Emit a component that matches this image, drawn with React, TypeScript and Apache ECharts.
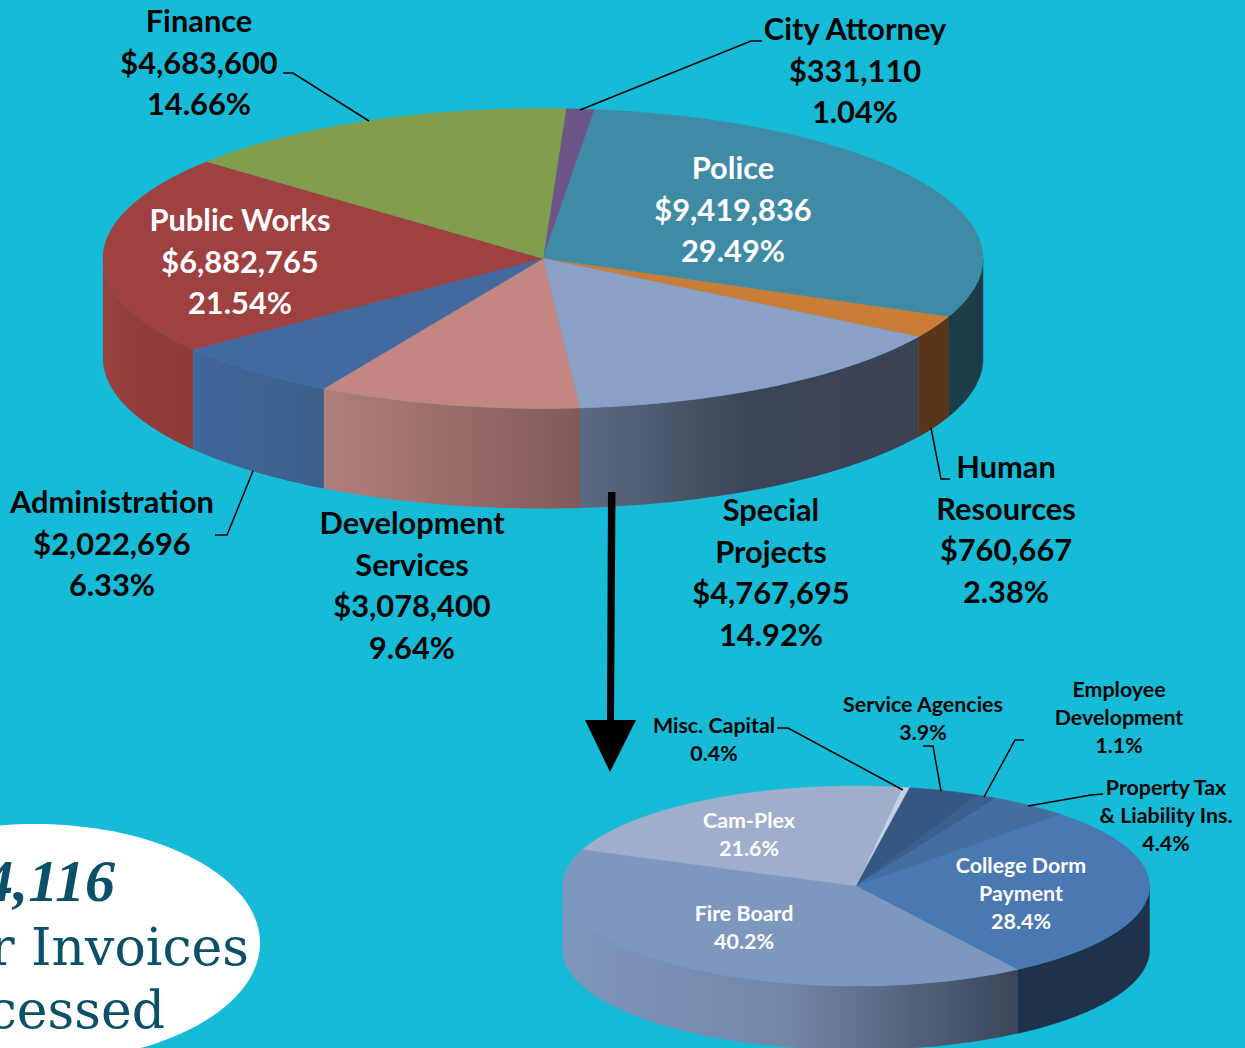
import React, { useEffect, useRef } from "react";
import * as echarts from "echarts";

// ---- data ----
const budgetNames = ["City Attorney", "Police", "Human Resources", "Special Projects", "Development Services", "Administration", "Public Works", "Finance"];
const budgetAmounts = [331110, 9419836, 760667, 4767695, 3078400, 2022696, 6882765, 4683600];
const budgetPercents = ["1.04%", "29.49%", "2.38%", "14.92%", "9.64%", "6.33%", "21.54%", "14.66%"];

const specialNames = ["Misc. Capital", "Service Agencies", "Employee Development", "Property Tax & Liability Ins.", "College Dorm Payment", "Fire Board", "Cam-Plex"];
const specialPercents = [0.4, 3.9, 1.1, 4.4, 28.4, 40.2, 21.6];

const invoiceCount = "4,116";
const invoiceLines = ["r Invoices", "cessed"];

// ---- styling and layout ----
const BG = "#16BBD8";
const INK = "#050505";
const NAVY = "#0A5069";

const mainGeo = { cx: 543, cy: 258.5, rx: 440, ry: 150, depth: 100, start: 3 };
const subGeo = { cx: 856, cy: 886, rx: 293.5, ry: 100, depth: 64, start: 9.1 };

type Stops = string[];
const mainTop = ["#6E5588", "#3F8BA5", "#C97D37", "#8AA0C6", "#C38683", "#436A9E", "#9E4140", "#829D4B"];
const mainSide: Stops[] = [
  ["#6E5588"],
  ["#1C3C48"],
  ["#5B3517"],
  ["#5C6B82", "#3C4558", "#3B4252"],
  ["#B07F7C", "#83595A"],
  ["#40679A", "#3C5F8A"],
  ["#9A4240", "#8F3C3B", "#8E3B3A"],
  ["#829D4B"],
];
const subTop = ["#C9CFDF", "#355783", "#3B608F", "#446EA0", "#4A78B2", "#7E97BF", "#9FAECB"];
const subSide: Stops[] = [
  ["#C9CFDF"],
  ["#355783"],
  ["#3B608F"],
  ["#446EA0"],
  ["#1E324C"],
  ["#7F97BC", "#7286A8", "#3A4558"],
  ["#9FAECB"],
];

const money = (v: number) => "$" + v.toLocaleString("en-US");

const mainLabels = [
  { i: 7, x: 199, y: 20.5, lines: ["Finance"], color: INK },
  { i: 0, x: 855, y: 28.5, lines: ["City Attorney"], color: INK },
  { i: 1, x: 733, y: 167.5, lines: ["Police"], color: "#FFFFFF" },
  { i: 6, x: 240, y: 219.5, lines: ["Public Works"], color: "#FFFFFF" },
  { i: 5, x: 112, y: 501.5, lines: ["Administration"], color: INK },
  { i: 4, x: 412, y: 522.5, lines: ["Development", "Services"], color: INK },
  { i: 3, x: 771, y: 509.5, lines: ["Special", "Projects"], color: INK },
  { i: 2, x: 1006, y: 466.5, lines: ["Human", "Resources"], color: INK },
];
const subLabels = [
  { i: 0, x: 714, y: 725, lines: ["Misc. Capital"], color: INK },
  { i: 1, x: 923, y: 704, lines: ["Service Agencies"], color: INK },
  { i: 2, x: 1119, y: 689, lines: ["Employee", "Development"], color: INK },
  { i: 3, x: 1166, y: 787, lines: ["Property Tax", "& Liability Ins."], color: INK },
  { i: 6, x: 749, y: 820, lines: ["Cam-Plex"], color: "#FFFFFF" },
  { i: 4, x: 1021, y: 865, lines: ["College Dorm", "Payment"], color: "#FFFFFF" },
  { i: 5, x: 744, y: 913, lines: ["Fire Board"], color: "#FFFFFF" },
];
const leaders: number[][][] = [
  [[283, 73], [293, 73], [369, 121]],
  [[580, 110], [751, 41], [762, 41]],
  [[931, 428], [941, 479], [950, 479]],
  [[253, 471], [227, 535], [215, 535]],
  [[777, 728], [788, 728], [903, 790]],
  [[923, 746], [933, 746], [941, 791]],
  [[1024, 740], [1015, 740], [984, 797]],
  [[1103, 794], [1091, 795], [1028, 806]],
];

function pt(g: typeof mainGeo, deg: number, dy = 0) {
  const t = (deg * Math.PI) / 180;
  return [g.cx + g.rx * Math.sin(t), g.cy - g.ry * Math.cos(t) + dy];
}

function arc(g: typeof mainGeo, a0: number, a1: number, dy = 0) {
  const pts: number[][] = [];
  const n = Math.max(2, Math.ceil((a1 - a0) / 0.5));
  for (let k = 0; k <= n; k++) pts.push(pt(g, a0 + ((a1 - a0) * k) / n, dy));
  return pts;
}

function paint(stops: Stops) {
  if (stops.length === 1) return stops[0];
  return new echarts.graphic.LinearGradient(
    0, 0, 1, 0,
    stops.map((color, k) => ({ offset: k / (stops.length - 1), color }))
  );
}

function pieRenderer(values: number[], g: typeof mainGeo, top: string[], side: Stops[]) {
  const total = values.reduce((a, b) => a + b, 0);
  return (params: any) => {
    const i = params.dataIndex;
    const before = values.slice(0, i).reduce((a, b) => a + b, 0);
    const a0 = g.start + (before / total) * 360;
    const a1 = a0 + (values[i] / total) * 360;
    const children: any[] = [];
    const s0 = Math.max(a0, 90);
    const s1 = Math.min(a1, 270);
    if (s1 > s0) {
      const upper = arc(g, s0, s1);
      const lower = arc(g, s0, s1, g.depth).reverse();
      const fill = paint(side[i]);
      children.push({
        type: "polygon",
        shape: { points: [...upper, ...lower] },
        style: { fill, stroke: side[i].length === 1 ? side[i][0] : "none", lineWidth: 0.4 },
      });
    }
    children.push({
      type: "polygon",
      shape: { points: [[g.cx, g.cy], ...arc(g, a0, a1)] },
      style: { fill: top[i], stroke: top[i], lineWidth: 0.4 },
    });
    return { type: "group", children };
  };
}

function labelElement(text: string, x: number, y: number, size: number, gap: number, color: string) {
  return {
    type: "text",
    z: 10,
    x,
    y,
    style: {
      text,
      fill: color,
      font: `bold ${size}px Lato`,
      lineHeight: gap,
      align: "center",
      verticalAlign: "middle",
    },
  };
}

export default function App() {
  const ref = useRef<HTMLDivElement>(null);
  useEffect(() => {
    document.body.style.margin = "0";
    document.body.style.overflow = "hidden";
    const chart = echarts.init(ref.current!, undefined, { renderer: "svg" });

    const gfx: any[] = [];
    gfx.push({ type: "ellipse", z: 10, shape: { cx: 35, cy: 943, rx: 225, ry: 119 }, style: { fill: "#FFFFFF" } });
    gfx.push({
      type: "text", z: 11, x: 115, y: 911,
      style: { text: invoiceCount, fill: NAVY, font: "italic bold 60px 'Liberation Serif'", align: "right", verticalAlign: "bottom" },
    });
    gfx.push({
      type: "text", z: 11, x: 249, y: 973,
      style: { text: invoiceLines[0], fill: NAVY, font: "52px 'DejaVu Serif'", align: "right", verticalAlign: "bottom" },
    });
    gfx.push({
      type: "text", z: 11, x: 165, y: 1036,
      style: { text: invoiceLines[1], fill: NAVY, font: "52px 'DejaVu Serif'", align: "right", verticalAlign: "bottom" },
    });
    leaders.forEach((points) =>
      gfx.push({ type: "polyline", z: 10, shape: { points }, style: { stroke: "#000000", lineWidth: 1.5, fill: "none" } })
    );
    gfx.push({
      type: "polygon", z: 10,
      shape: { points: [[608, 492], [615.5, 492], [614, 720], [636, 720], [610, 772], [585, 720], [607, 720]] },
      style: { fill: "#000000" },
    });
    mainLabels.forEach((l) => {
      const txt = [...l.lines, money(budgetAmounts[l.i]), budgetPercents[l.i]].join("\n");
      const n = l.lines.length + 2;
      gfx.push(labelElement(txt, l.x, l.y + ((n - 1) * 41.6) / 2, 30.8, 41.6, l.color));
    });
    subLabels.forEach((l) => {
      const txt = [...l.lines, specialPercents[l.i].toFixed(1) + "%"].join("\n");
      const n = l.lines.length + 1;
      gfx.push(labelElement(txt, l.x, l.y + ((n - 1) * 28) / 2, 21.4, 28, l.color));
    });

    chart.setOption({
      animation: false,
      backgroundColor: BG,
      tooltip: { show: false },
      series: [
        {
          type: "custom",
          name: "Budget",
          coordinateSystem: "none",
          silent: true,
          renderItem: pieRenderer(budgetAmounts, mainGeo, mainTop, mainSide),
          data: budgetAmounts.map((value, k) => ({ name: budgetNames[k], value })),
        },
        {
          type: "custom",
          name: "Special Projects",
          coordinateSystem: "none",
          silent: true,
          renderItem: pieRenderer(specialPercents, subGeo, subTop, subSide),
          data: specialPercents.map((value, k) => ({ name: specialNames[k], value })),
        },
      ],
      graphic: { elements: gfx },
    });
    return () => chart.dispose();
  }, []);
  return <div ref={ref} style={{ position: "absolute", left: 0, top: 0, width: 1245, height: 1048 }} />;
}
